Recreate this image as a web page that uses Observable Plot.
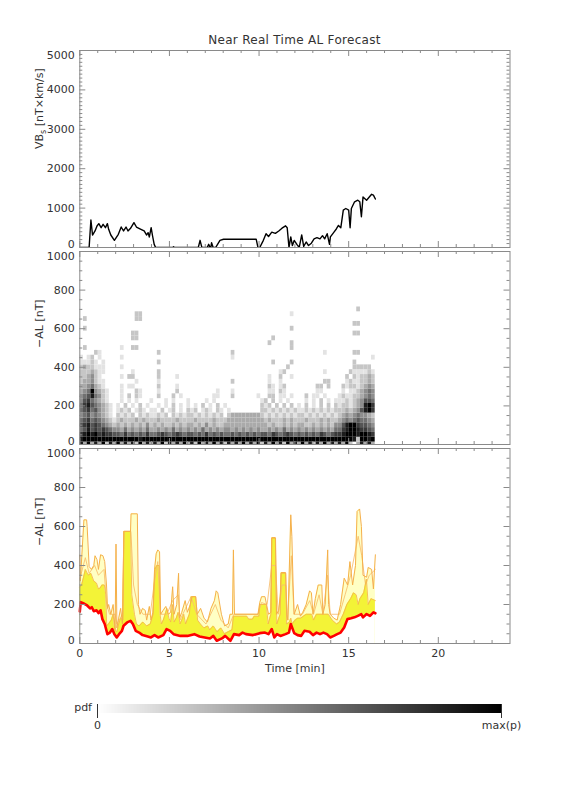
<!DOCTYPE html>
<html><head><meta charset="utf-8">
<script src="https://cdn.jsdelivr.net/npm/d3@7"></script>
<script src="https://cdn.jsdelivr.net/npm/@observablehq/plot@0.6"></script>
<style>
body{margin:0;background:#fff;}
#wrap{position:relative;width:576px;height:792px;background:#fff;font-family:"DejaVu Sans",sans-serif;color:#333;overflow:hidden;}
#wrap svg{position:absolute;left:0;overflow:visible;}
#title{position:absolute;left:79px;width:431px;top:33px;text-align:center;font-size:12px;letter-spacing:0.3px;}
#pdf{position:absolute;left:60px;width:32px;top:701px;text-align:right;font-size:11px;}
</style></head><body><div id="wrap"><div id="title">Near Real Time AL Forecast</div><div id="pdf">pdf</div></div>
<script>
// ---------------- DATA ----------------
const timeMajor = [0, 5, 10, 15, 20];
const vbTicks = [0, 1000, 2000, 3000, 4000, 5000];
const alTicks = [0, 200, 400, 600, 800, 1000];

// VBs solar wind driver [nT x km/s]  (time min, value)
const vbPoints = [[0,0],[0.52,0],[0.62,698],[0.71,317],[0.85,419],[0.96,546],[1.06,605],[1.19,503],[1.3,588],[1.43,503],[1.54,605],[1.61,461],[1.73,317],[1.93,182],[2.15,334],[2.31,520],[2.44,419],[2.58,520],[2.69,419],[2.83,487],[3.02,630],[3.16,520],[3.41,461],[3.59,419],[3.73,317],[3.81,377],[3.88,267],[3.98,503],[4.06,292],[4.15,80],[4.23,0],[5.18,0],[5.23,20],[5.28,0],[6.61,0],[6.71,182],[6.81,0],[7.11,0],[7.19,80],[7.27,0],[7.31,0],[7.35,120],[7.44,0],[7.58,0],[7.82,180],[8.02,210],[9.84,210],[9.94,0],[10.04,0],[10.24,182],[10.39,350],[10.53,280],[10.71,390],[10.91,360],[11.1,420],[11.28,490],[11.48,550],[11.57,500],[11.67,0],[11.77,270],[11.86,50],[11.96,180],[12.11,80],[12.24,0],[12.38,320],[12.49,30],[12.63,140],[12.76,50],[12.92,110],[13.07,220],[13.23,250],[13.4,220],[13.54,300],[13.66,220],[13.8,350],[13.93,80],[13.98,270],[14.18,390],[14.31,470],[14.43,560],[14.56,500],[14.7,950],[14.84,990],[15.0,950],[15.08,500],[15.15,990],[15.33,1160],[15.51,1200],[15.62,1160],[15.71,780],[15.8,1280],[16.0,1200],[16.15,1280],[16.28,1350],[16.38,1330],[16.49,1230]];

// pdf of -AL: rows = AL bin centres (nT), one digit (0-9 relative density) per time column
const pdfStep = 0.206;
const pdfAL = [0,25,50,75,100,125,150,175,200,225,250,275,300,325,350,375,400,425,450,475,500,525,550,575,600,625,650,675,700];
const pdfRows = [
"8393839283 9383829383 8392838393 8293839382 8383938392 8393829383 9382839383 8392038383",
"8999999999 9999998999 9999999999 9999999999 9999999999 9999999999 9999999999 9999829989",
"7898978776 6575656575 5676567656 6565756565 5656565656 6576567656 5656576567 7899989987",
"5686767654 4353434353 3434353434 3435343434 4343434343 3434353434 3434343435 5789987765",
"6786765432 3232323242 3232232323 3232423223 3333333333 3232232323 3223232324 4689976654",
"5675654321 2322232322 2322223222 2322223222 3333333333 2322232322 2322232322 3454565543",
"4564543210 2121202121 1212021212 2121212120 2333333332 1212121212 2121212121 2343454432",
"5675643210 1212012101 1020120102 1201210210 1000000002 2121212121 1212121212 2232346897",
"5786543210 1020102010 0101020101 0102010201 0000000002 1202020201 0201020202 1221234897",
"4675432100 0101010001 0001010001 0000101000 0000000001 2020101000 0101020101 1121234665",
"4568542100 0102021000 0200020100 0000001100 0200000010 0220110100 0201101000 1211223454",
"3459432100 0100021000 0100002000 0000000100 0100000000 0110210000 0000110000 0101123454",
"3345321000 0101100000 0200001000 0000000000 0000000000 0210120000 0000220200 0212212343",
"2334211000 0000010000 0100000000 0000000000 0200000000 0100100000 0000002200 0012112232",
"2234210000 0102200000 0200001000 0000000000 0000000000 0100200100 0000000000 0020212232",
"2223211000 0000100000 0200000000 0000000000 0000000000 0000120000 0000001000 0002111121",
"2322111000 0100000000 0000000000 0000000000 0000000000 0000002000 0000000000 0000222220",
"1112101000 0000000000 0200000000 0000000000 0000000000 0020000200 0000000000 0000200000",
"1012010000 0100000000 0000000000 0000000000 0100000000 0000000000 0000000000 0000000001",
"0000210000 0000000000 0200000000 0000000000 0200000000 0000000000 0000001000 0000220000",
"0200000000 0100220000 0000000000 0000000000 0000000000 0000000200 0000000000 0000000000",
"0000000000 0000000000 0000000000 0000000000 0000000000 0200000200 0000000000 0000000000",
"0000000000 0000220000 0000000000 0000000000 0000000000 0020000000 0000000000 0000000000",
"0000000000 0000220000 0000000000 0000000000 0000000000 0000000000 0000000000 0000220000",
"0200000000 0000000000 0000000000 0000000000 0000000000 0000000200 0000000000 0000000000",
"0000000000 0000000000 0000000000 0000000000 0000000000 0000000000 0000000000 0000220000",
"0200000000 0000022000 0000000000 0000000000 0000000000 0000000000 0000000000 0000000000",
"0000000000 0000022000 0000000000 0000000000 0000000000 0000000100 0000000000 0000000000",
"0000000000 0000000000 0000000000 0000000000 0000000000 0000000000 0000000000 0000020000"
];

// forecast -AL [nT]
const alLow = [[0,164],[0.05,212],[0.23,205],[0.41,195],[0.57,180],[0.67,186],[0.78,166],[0.93,170],[1.04,156],[1.16,170],[1.26,125],[1.39,100],[1.54,48],[1.68,56],[1.81,74],[1.93,48],[2.06,31],[2.19,48],[2.35,65],[2.44,91],[2.64,108],[2.83,116],[2.96,100],[3.12,65],[3.31,56],[3.5,43],[3.79,36],[3.97,31],[4.17,43],[4.37,31],[4.66,43],[4.84,74],[5.04,65],[5.23,48],[5.61,39],[6.0,39],[6.39,48],[6.68,36],[6.97,31],[7.26,26],[7.45,39],[7.64,14],[7.93,26],[8.11,39],[8.4,14],[8.6,48],[8.89,43],[9.08,56],[9.27,48],[9.66,43],[10.04,53],[10.33,56],[10.53,48],[10.71,74],[10.85,31],[11.0,48],[11.19,39],[11.48,48],[11.67,56],[11.77,100],[11.96,53],[12.15,43],[12.35,39],[12.53,65],[12.82,60],[13.01,43],[13.21,56],[13.4,48],[13.59,56],[13.79,48],[13.97,31],[14.17,39],[14.36,48],[14.55,56],[14.75,82],[14.93,125],[15.13,129],[15.32,134],[15.51,142],[15.7,151],[15.8,134],[16.0,151],[16.19,142],[16.38,160],[16.49,155]];
const alMid = [[0,290],[0.1,300],[0.21,340],[0.31,380],[0.47,350],[0.62,360],[0.78,320],[0.93,310],[1.04,280],[1.14,285],[1.24,300],[1.37,300],[1.45,250],[1.5,90],[1.6,100],[1.76,120],[1.86,150],[1.95,70],[2.07,60],[2.17,100],[2.28,130],[2.41,120],[2.46,575],[2.83,575],[2.9,250],[3.05,150],[3.16,100],[3.31,90],[3.52,110],[3.73,90],[3.93,100],[4.09,150],[4.19,380],[4.3,400],[4.43,400],[4.48,150],[4.55,100],[4.66,120],[4.76,150],[4.86,180],[4.97,130],[5.07,110],[5.18,200],[5.26,110],[5.38,130],[5.49,160],[5.59,100],[5.69,120],[5.8,150],[5.9,100],[6.11,150],[6.21,240],[6.47,240],[6.57,120],[6.73,100],[6.93,80],[7.14,90],[7.25,70],[7.45,90],[7.66,60],[7.87,80],[8.07,50],[8.28,60],[8.49,70],[8.57,140],[9.32,140],[9.42,125],[9.63,125],[9.73,140],[9.99,140],[10.04,200],[10.4,200],[10.51,100],[10.66,150],[10.71,540],[10.92,540],[10.99,100],[11.18,150],[11.23,360],[11.49,360],[11.54,100],[11.7,110],[11.77,130],[11.85,100],[12.01,120],[12.16,130],[12.32,130],[12.63,150],[12.94,150],[13.04,120],[13.2,150],[13.66,150],[13.87,150],[14.08,120],[14.33,100],[14.49,110],[14.7,150],[14.9,200],[15.11,230],[15.27,260],[15.42,250],[15.53,200],[15.63,230],[15.84,260],[15.99,330],[16.09,200],[16.25,230],[16.49,220]];
const alUpper = [[0,330],[0.31,440],[0.52,360],[0.83,400],[1.04,350],[1.35,380],[1.5,200],[1.66,150],[1.97,150],[2.07,100],[2.38,150],[2.46,575],[2.85,575],[3.0,300],[3.21,200],[3.52,150],[3.93,150],[4.14,300],[4.35,420],[4.5,150],[4.86,150],[5.18,220],[5.49,250],[5.59,120],[5.9,180],[6.21,240],[6.52,150],[7.04,100],[7.56,200],[7.87,120],[8.28,80],[8.59,150],[9.94,150],[10.14,210],[10.45,200],[10.71,400],[10.92,400],[11.07,150],[11.28,300],[11.49,300],[11.59,120],[11.8,450],[11.95,150],[12.42,150],[12.83,220],[13.04,150],[13.35,250],[13.56,150],[13.82,350],[13.97,150],[14.49,150],[14.8,250],[15.11,350],[15.53,550],[15.73,450],[15.94,300],[16.15,350],[16.49,380]];
const alMax = [[0,454],[0.03,320],[0.23,634],[0.38,634],[0.41,600],[0.52,395],[0.65,380],[0.78,400],[0.85,450],[0.96,430],[1.04,380],[1.16,455],[1.29,450],[1.39,420],[1.49,300],[1.55,180],[1.61,200],[1.73,150],[1.86,200],[1.97,70],[2.02,510],[2.07,80],[2.17,130],[2.28,180],[2.38,100],[2.46,575],[2.83,575],[2.86,665],[3.21,665],[3.27,200],[3.36,150],[3.5,180],[3.65,170],[3.73,120],[3.88,190],[3.97,120],[4.08,160],[4.17,380],[4.26,460],[4.35,480],[4.45,470],[4.51,150],[4.65,170],[4.8,190],[4.94,150],[5.07,160],[5.18,291],[5.26,150],[5.41,200],[5.51,360],[5.56,130],[5.69,160],[5.88,220],[6.0,160],[6.17,200],[6.26,240],[6.46,240],[6.55,150],[6.74,180],[6.93,130],[7.12,110],[7.32,180],[7.51,220],[7.61,270],[7.7,260],[7.9,150],[8.08,90],[8.28,100],[8.38,150],[8.52,150],[8.57,480],[8.63,150],[9.94,150],[10.04,210],[10.14,240],[10.33,240],[10.42,200],[10.53,150],[10.66,160],[10.71,543],[10.91,543],[10.97,150],[11.1,170],[11.19,260],[11.23,364],[11.48,364],[11.54,150],[11.61,120],[11.77,660],[11.83,550],[11.9,300],[11.96,150],[12.15,200],[12.31,140],[12.44,160],[12.63,200],[12.82,270],[12.92,260],[13.01,150],[13.14,230],[13.3,300],[13.5,300],[13.56,150],[13.69,200],[13.83,480],[13.88,200],[13.97,150],[14.17,130],[14.36,120],[14.55,200],[14.75,335],[14.94,300],[15.07,420],[15.22,300],[15.38,400],[15.47,677],[15.61,690],[15.71,600],[15.8,350],[16.0,340],[16.09,390],[16.28,380],[16.38,280],[16.49,455]];

// ---------------- LAYOUT / STYLE ----------------
const W = 576, L = 79.3, R = 509.5;
const frameGray = "#8a8a8a", ink = "#333";
const wrap = document.getElementById("wrap");
const pt = (a) => a.map(([t, v]) => ({t, v}));

const pdfCells = [];
pdfRows.forEach((row, i) => {
  row.replace(/ /g, "").split("").forEach((ch, c) => {
    const p = +ch;
    if (p > 0) pdfCells.push({t1: c * pdfStep, t2: (c + 1) * pdfStep, al1: pdfAL[i] - 12.5, al2: pdfAL[i] + 12.5, p});
  });
});

function tickMarks(h, yMajor, yMinor) {
  const xMinor = d3.range(1, 24).filter(d => d % 5);
  const fw = R - L;
  const s = {stroke: frameGray, strokeWidth: 1};
  return [
    Plot.tickX(timeMajor, {x: d => d, insetTop: h - 6, ...s}),
    Plot.tickX(timeMajor, {x: d => d, insetBottom: h - 6, ...s}),
    Plot.tickX(xMinor, {x: d => d, insetTop: h - 3, ...s}),
    Plot.tickX(xMinor, {x: d => d, insetBottom: h - 3, ...s}),
    Plot.tickY(yMajor, {y: d => d, insetRight: fw - 6, ...s}),
    Plot.tickY(yMajor, {y: d => d, insetLeft: fw - 6, ...s}),
    Plot.tickY(yMinor, {y: d => d, insetRight: fw - 3, ...s}),
    Plot.tickY(yMinor, {y: d => d, insetLeft: fw - 3, ...s})
  ];
}

function panel({top, bottom, yDomain, yMajor, yMinor, marks, xLabels, yLabel, color}) {
  const mt = 10, mb = xLabels ? 40 : 10, h = bottom - top;
  const lo = yMajor[0], hi = yMajor[yMajor.length - 1];
  const ax = {tickSize: 0, tickPadding: 5, label: null, fill: ink, tickFormat: d => String(d)};
  const svg = Plot.plot({
    width: W, height: h + mt + mb,
    marginLeft: L, marginRight: W - R, marginTop: mt, marginBottom: mb,
    style: {background: "transparent", overflow: "visible", fontFamily: "DejaVu Sans", fontSize: "11px", color: ink},
    x: {domain: [0, 24], axis: null},
    y: {domain: yDomain},
    color,
    marks: [
      ...marks,
      Plot.frame({stroke: frameGray, strokeWidth: 1}),
      ...tickMarks(h, yMajor, yMinor),
      Plot.axisY({...ax, ticks: yMajor.filter(d => d !== lo && d !== hi)}),
      Plot.axisY({...ax, ticks: [lo], dy: -3}),
      Plot.axisY({...ax, ticks: [hi], dy: 4.5}),
      xLabels ? Plot.axisX({ticks: timeMajor, tickSize: 0, tickPadding: 6, label: null, fill: ink}) : null,
      xLabels ? Plot.text(["Time [min]"], {text: d => d, frameAnchor: "bottom", dy: 28, fill: ink, fontSize: 11}) : null,
      Plot.text([yLabel], {text: d => d, frameAnchor: "left", dx: -40, rotate: -90, fill: ink, fontSize: 11})
    ]
  });
  svg.style.top = (top - mt) + "px";
  wrap.appendChild(svg);
  return svg;
}

// Panel 1: VBs
const p1 = panel({
  top: 49.5, bottom: 246.5, yDomain: [0, 5000], yMajor: vbTicks,
  yMinor: d3.range(100, 5000, 100).filter(d => d % 1000),
  yLabel: "VBs [nT×km/s]",
  marks: [Plot.line(pt(vbPoints), {x: "t", y: "v", stroke: "#000", strokeWidth: 1.4, clip: true})]
});
d3.select(p1).selectAll("text").filter(function () { return this.textContent === "VBs [nT×km/s]"; })
  .each(function () {
    const t = d3.select(this); t.text("VB");
    t.append("tspan").attr("font-size", 8).attr("dy", 3).text("s");
    t.append("tspan").attr("dy", -3).text(" [nT×km/s]");
  });

// Panel 2: pdf heat map
panel({
  top: 250.5, bottom: 443.5, yDomain: [0, 1000], yMajor: alTicks,
  yMinor: d3.range(50, 1000, 50).filter(d => d % 200),
  yLabel: "−AL [nT]",
  color: {type: "linear", domain: [0, 9], range: ["#ffffff", "#000000"]},
  marks: [Plot.rect(pdfCells, {x1: "t1", x2: "t2", y1: "al1", y2: "al2", fill: "p", clip: true})]
});

// Panel 3: forecast bands
panel({
  top: 447.5, bottom: 642.5, yDomain: [0, 1000], yMajor: alTicks,
  yMinor: d3.range(50, 1000, 50).filter(d => d % 200),
  yLabel: "−AL [nT]", xLabels: true,
  marks: [
    Plot.areaY(pt(alMax), {x: "t", y: "v", fill: "#ffffc4"}),
    Plot.areaY(pt(alMid), {x: "t", y: "v", fill: "#f3f337"}),
    Plot.areaY(pt(alLow), {x: "t", y: "v", fill: "#ffffff"}),
    Plot.line(pt(alUpper), {x: "t", y: "v", stroke: "#f8c070", strokeWidth: 0.9}),
    Plot.line(pt(alMid), {x: "t", y: "v", stroke: "#f5b84c", strokeWidth: 0.9}),
    Plot.line(pt(alMax), {x: "t", y: "v", stroke: "#f5b04a", strokeWidth: 1}),
    Plot.line(pt(alLow), {x: "t", y: "v", stroke: "#ff0000", strokeWidth: 2.6})
  ]
});

// colour bar
const cb = Plot.legend({
  color: {type: "linear", domain: [0, 1], range: ["#ffffff", "#000000"]},
  width: W, marginLeft: 97, marginRight: W - 501, marginTop: 4, marginBottom: 18, height: 31,
  ticks: [0, 1], tickFormat: d => (d === 0 ? "0" : "max(p)"), tickSize: 5, label: null
});
cb.style.position = "absolute"; cb.style.left = "0px"; cb.style.top = "700px";
cb.style.background = "transparent"; cb.style.fontFamily = "DejaVu Sans"; cb.style.fontSize = "11px"; cb.style.color = ink;
cb.style.overflow = "visible";
wrap.appendChild(cb);
</script></body></html>
